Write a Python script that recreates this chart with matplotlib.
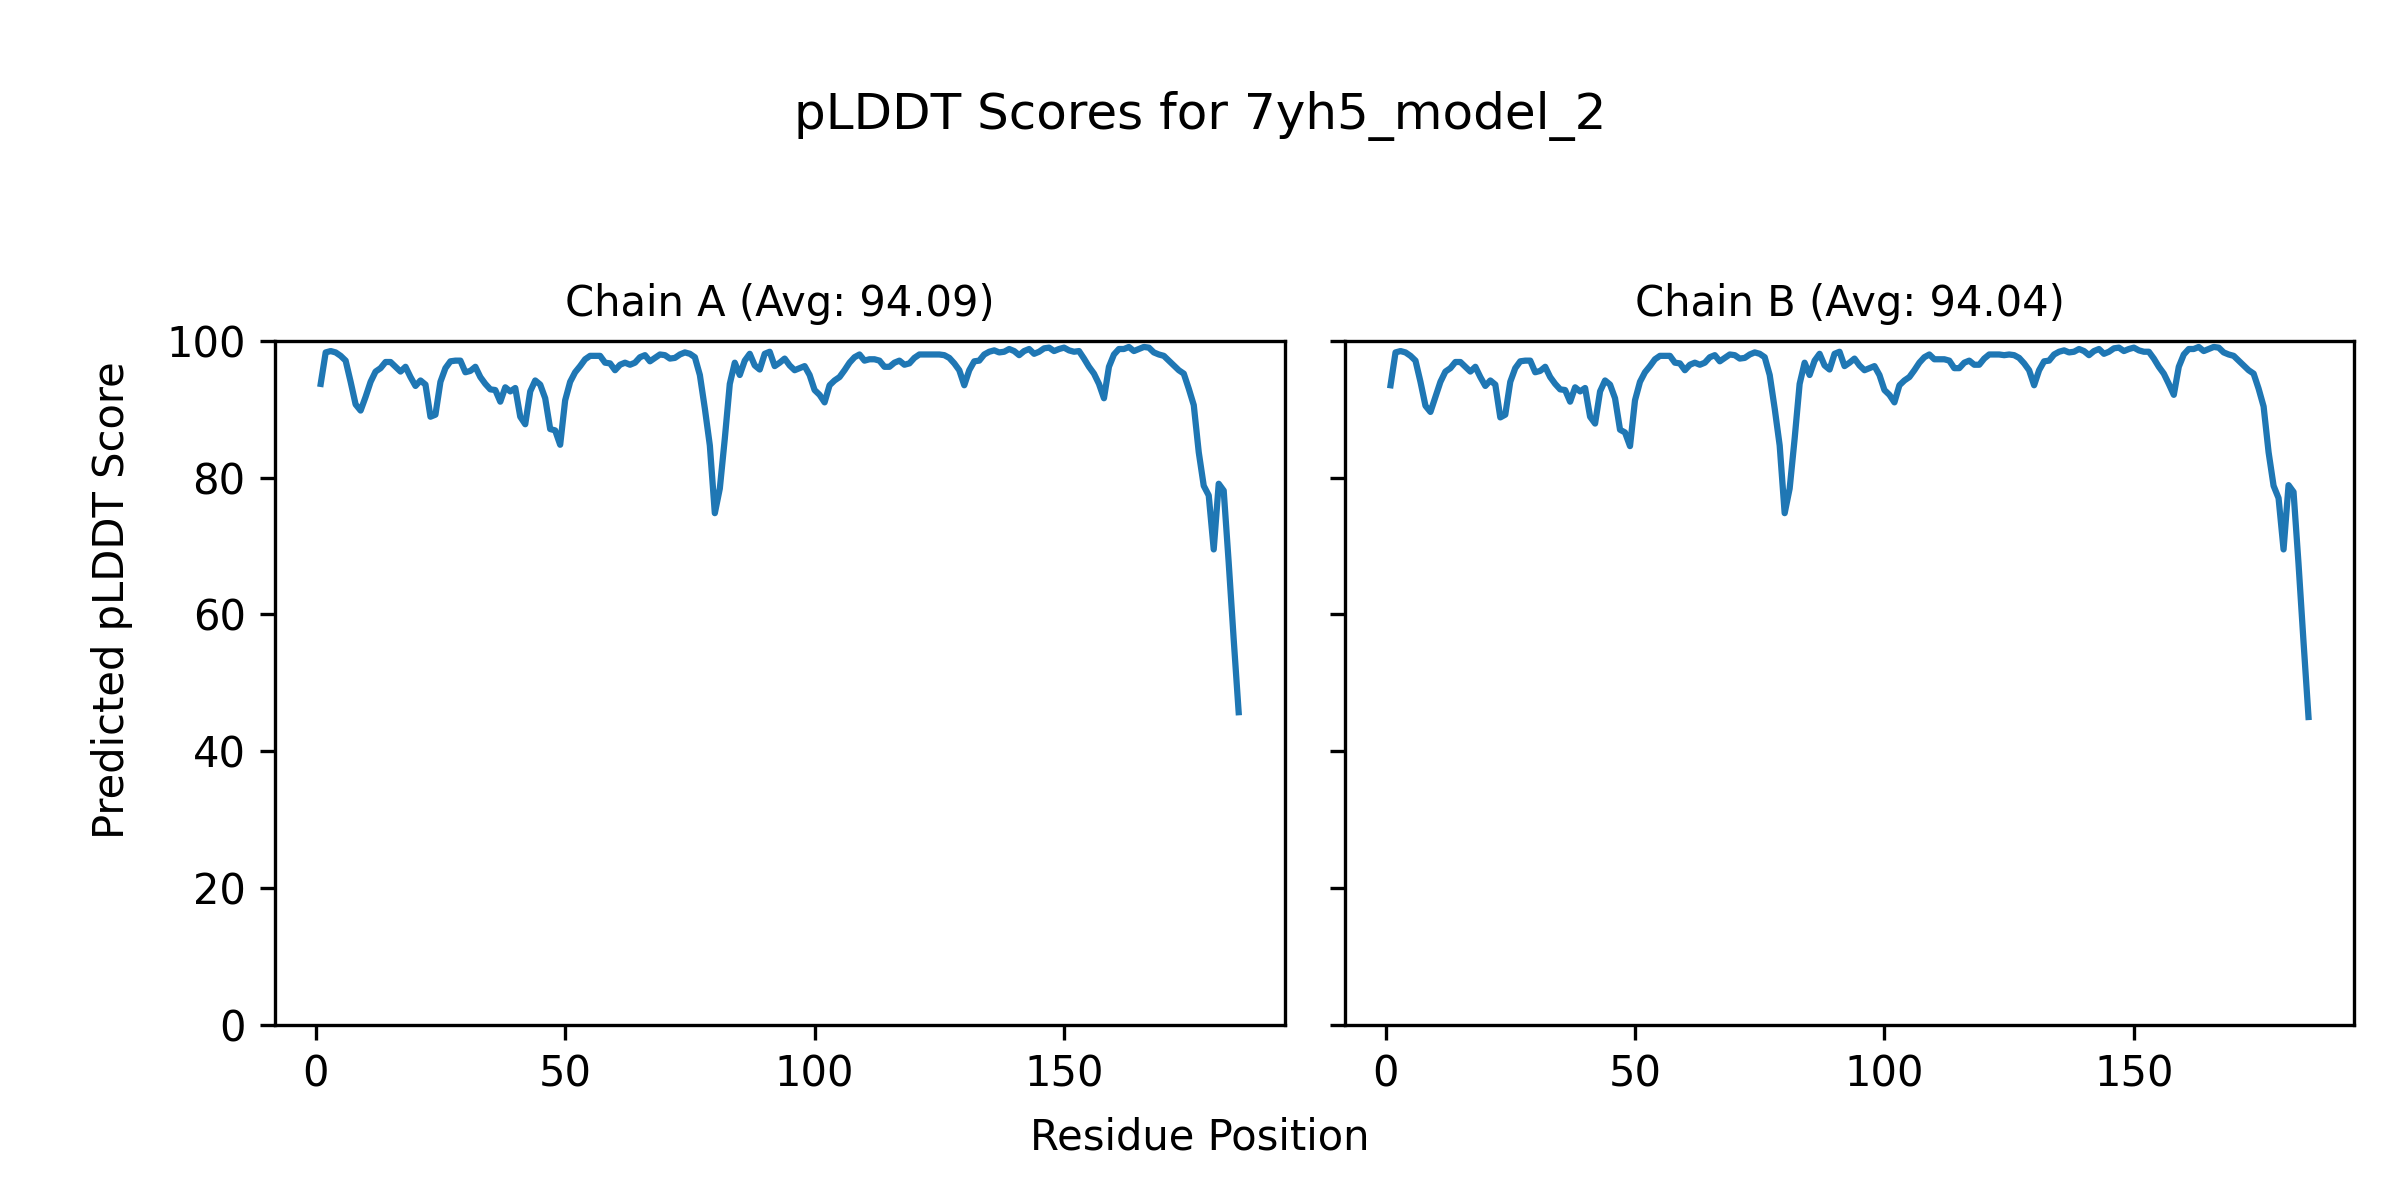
import numpy as np
import matplotlib
matplotlib.use("Agg")
import matplotlib.pyplot as plt

model_name = "7yh5_model_2"

# pLDDT per residue
chain_a_scores = [
    93.7, 98.3, 98.5, 98.3, 97.8, 97.1, 94.0, 90.7, 89.8, 91.8,
    94.0, 95.5, 96.0, 96.9, 96.9, 96.2, 95.5, 96.2, 94.7, 93.4,
    94.2, 93.6, 88.9, 89.2, 94.0, 96.0, 97.0, 97.1, 97.1, 95.4,
    95.6, 96.2, 94.7, 93.7, 92.9, 92.8, 91.1, 93.2, 92.6, 93.1,
    88.9, 87.8, 92.6, 94.2, 93.6, 91.6, 87.1, 86.9, 84.8, 91.3,
    94.0, 95.4, 96.3, 97.3, 97.8, 97.8, 97.8, 96.8, 96.7, 95.7,
    96.5, 96.8, 96.5, 96.8, 97.6, 97.9, 97.0, 97.5, 98.0, 97.9,
    97.4, 97.5, 98.0, 98.3, 98.1, 97.6, 95.0, 90.1, 84.7, 74.8,
    78.4, 85.7, 93.7, 96.8, 95.0, 97.1, 98.1, 96.4, 95.8, 98.1,
    98.4, 96.3, 96.8, 97.4, 96.4, 95.7, 96.0, 96.3, 95.0, 92.8,
    92.1, 91.0, 93.5, 94.2, 94.7, 95.7, 96.8, 97.6, 98.0, 97.1,
    97.3, 97.3, 97.1, 96.2, 96.2, 96.8, 97.1, 96.5, 96.7, 97.5,
    98.0, 98.0, 98.0, 98.0, 98.0, 97.9, 97.5, 96.7, 95.7, 93.5,
    95.7, 97.0, 97.1, 98.0, 98.4, 98.6, 98.3, 98.4, 98.8, 98.5,
    97.9, 98.5, 98.8, 98.1, 98.4, 98.9, 99.0, 98.5, 98.8, 99.0,
    98.6, 98.4, 98.5, 97.4, 96.2, 95.2, 93.7, 91.6, 96.2, 98.0,
    98.8, 98.8, 99.1, 98.5, 98.8, 99.1, 99.0, 98.3, 98.0, 97.8,
    97.1, 96.4, 95.7, 95.2, 93.0, 90.6, 83.7, 78.8, 77.4, 69.5,
    79.1, 78.1, 67.6, 56.4, 45.7,
]

chain_b_scores = [
    93.5, 98.3, 98.5, 98.3, 97.8, 97.1, 94.0, 90.5, 89.6, 91.8,
    94.0, 95.5, 96.0, 96.9, 96.9, 96.2, 95.5, 96.2, 94.7, 93.4,
    94.2, 93.6, 88.8, 89.2, 94.0, 96.0, 97.0, 97.1, 97.1, 95.4,
    95.6, 96.2, 94.7, 93.7, 92.9, 92.8, 91.1, 93.2, 92.6, 93.1,
    88.9, 87.9, 92.6, 94.2, 93.6, 91.6, 87.0, 86.6, 84.6, 91.3,
    94.0, 95.4, 96.3, 97.3, 97.8, 97.8, 97.8, 96.8, 96.7, 95.7,
    96.5, 96.8, 96.5, 96.8, 97.6, 97.9, 97.0, 97.5, 98.0, 97.9,
    97.4, 97.5, 98.0, 98.3, 98.1, 97.6, 95.0, 90.1, 84.7, 74.8,
    78.4, 85.7, 93.7, 96.8, 95.0, 97.1, 98.1, 96.4, 95.8, 98.1,
    98.4, 96.3, 96.8, 97.4, 96.4, 95.7, 96.0, 96.3, 95.0, 92.8,
    92.1, 91.0, 93.5, 94.2, 94.7, 95.7, 96.8, 97.6, 98.0, 97.3,
    97.3, 97.3, 97.1, 96.0, 96.0, 96.8, 97.1, 96.5, 96.5, 97.4,
    98.0, 98.0, 98.0, 97.9, 98.0, 97.9, 97.5, 96.7, 95.7, 93.5,
    95.7, 97.0, 97.1, 98.0, 98.4, 98.6, 98.3, 98.4, 98.8, 98.5,
    97.9, 98.5, 98.8, 98.1, 98.4, 98.9, 99.0, 98.5, 98.8, 99.0,
    98.6, 98.4, 98.4, 97.4, 96.2, 95.2, 93.7, 92.1, 96.2, 98.0,
    98.8, 98.8, 99.1, 98.5, 98.8, 99.1, 99.0, 98.3, 98.0, 97.8,
    97.1, 96.4, 95.7, 95.2, 93.0, 90.4, 83.7, 78.8, 77.0, 69.5,
    78.9, 77.9, 67.4, 56.0, 45.0,
]

chain_names = ["A", "B"]
chain_avgs = ["94.09", "94.04"]

residues = np.arange(1, len(chain_a_scores) + 1)

fig, axes = plt.subplots(1, 2, figsize=(8, 4), dpi=300, sharey=True)
fig.subplots_adjust(left=0.1145, right=0.981, top=0.716, bottom=0.146, wspace=0.0595)

for ax, name, avg, scores in zip(axes, chain_names, chain_avgs, [chain_a_scores, chain_b_scores]):
    ax.plot(residues, scores, color="#1f77b4", linewidth=1.5)
    ax.set_title(f"Chain {name} (Avg: {avg})", fontsize=10)
    ax.set_ylim(0, 100)

fig.suptitle(f"pLDDT Scores for {model_name}", fontsize=12, y=0.903, va="center")
fig.text(0.5, 0.0525, "Residue Position", ha="center", va="center", fontsize=10)
fig.text(0.0466, 0.5, "Predicted pLDDT Score", ha="center", va="center",
         rotation="vertical", fontsize=10)

plt.savefig("out.png", dpi=300)
